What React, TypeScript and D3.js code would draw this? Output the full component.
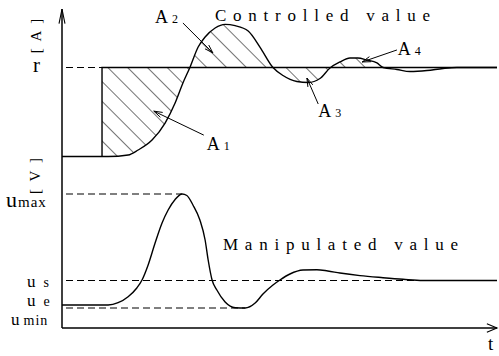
import React from "react";
import * as d3 from "d3";

// time axis (arbitrary units 0..100)
const TIME = [0, 9.2, 10.6, 15.2, 17.5, 20.7, 23.7, 26.0, 27.8, 29.4, 31.3, 32.9, 35.2, 37.5, 39.8, 42.8, 45.5, 48.5, 50.8, 54.0, 56.6, 59.3, 61.6, 63.9, 66.2, 68.0, 70.1, 72.4, 73.8, 77.0, 80.0, 83.9, 87.6, 90.8, 100];
const CONTROLLED = [0, 0, 0, 0.017, 0.073, 0.185, 0.376, 0.601, 0.826, 1.0, 1.23, 1.343, 1.444, 1.485, 1.47, 1.41, 1.23, 1.0, 0.91, 0.843, 0.831, 0.876, 0.994, 1.062, 1.107, 1.107, 1.084, 1.051, 1.0, 0.978, 0.955, 0.966, 0.989, 1.0, 1.0];

const TIME_M = [0, 7.6, 10.6, 12.9, 15.2, 17.2, 18.4, 19.8, 21.4, 23.0, 24.4, 26.0, 27.6, 28.7, 30.1, 31.7, 32.9, 33.6, 34.5, 35.6, 37.5, 39.8, 42.1, 44.4, 46.2, 48.5, 50.1, 52.4, 55.4, 58.6, 61.1, 63.9, 68.5, 73.8, 78.4, 83.0, 100];
const MANIPULATED = [2.3, 2.3, 2.3, 2.53, 3.13, 4.0, 4.8, 6.3, 8.5, 10.5, 11.8, 12.85, 13.4, 13.25, 12.3, 10.8, 8.8, 6.8, 4.8, 3.8, 2.6, 2.03, 2.0, 2.5, 3.4, 4.3, 4.8, 5.4, 5.8, 5.83, 5.7, 5.5, 5.24, 5.03, 4.87, 4.75, 4.75];

const SETPOINT = 1;
const STEP_T = 9.2;
const HATCH_END_T = 73.8;
const U_MAX = 13.4;
const U_S = 4.75;
const U_E = 2.3;
const U_MIN = 2.0;
const U_MAX_T = 27.6;
const U_MIN_T = 42.1;

// annotations: [label, sub, textT, textV, fromT, fromV, toT, toV]
const AREA_LABELS: [string, string, number, number, number, number, number, number][] = [
  ["A", "1", 33.3, 0.073, 32.6, 0.24, 21.1, 0.51],
  ["A", "2", 21.4, 1.5, 27.8, 1.5, 34.7, 1.163],
  ["A", "3", 58.9, 0.444, 58.9, 0.59, 56.3, 0.882],
  ["A", "4", 77.2, 1.14, 77.0, 1.197, 69.0, 1.062],
];

const FONT = "'Liberation Serif', 'Times New Roman', 'DejaVu Serif', serif";

function arrowHead(x1: number, y1: number, x2: number, y2: number, len: number, spread: number) {
  const a = Math.atan2(y2 - y1, x2 - x1);
  const p1 = [x2 - len * Math.cos(a - spread), y2 - len * Math.sin(a - spread)];
  const p2 = [x2 - len * Math.cos(a + spread), y2 - len * Math.sin(a + spread)];
  return `M${p1[0]},${p1[1]}L${x2},${y2}L${p2[0]},${p2[1]}`;
}

export default function App() {
  const W = 499, H = 356;
  const x = d3.scaleLinear().domain([0, 100]).range([62, 497]);
  const yC = d3.scaleLinear().domain([0, 1]).range([156.5, 67.5]);
  const yM = d3.scaleLinear().domain([0, 10]).range([328, 228]);

  const cData = TIME.map((t, i) => [t, CONTROLLED[i]] as [number, number]);
  const mData = TIME_M.map((t, i) => [t, MANIPULATED[i]] as [number, number]);

  const lineC = d3.line<[number, number]>().x(d => x(d[0])).y(d => yC(d[1])).curve(d3.curveMonotoneX);
  const lineM = d3.line<[number, number]>().x(d => x(d[0])).y(d => yM(d[1])).curve(d3.curveMonotoneX);
  const areaC = d3.area<[number, number]>().x(d => x(d[0])).y0(yC(SETPOINT)).y1(d => yC(d[1])).curve(d3.curveMonotoneX);

  const x0 = x(0), xEnd = x(100);
  const yAxisBottom = yM(0);
  const dash = "7,4";
  const tf = { fontFamily: FONT };

  return (
    <svg width={W} height={H} style={{ position: "absolute", left: 0, top: 0, background: "#fff" }}>
      <defs>
        <pattern id="hatch" patternUnits="userSpaceOnUse" width={14} height={14} patternTransform="rotate(-45)">
          <line x1={0} y1={0} x2={0} y2={14} stroke="#000" strokeWidth={1.1} />
        </pattern>
        <clipPath id="hclip">
          <rect x={x(STEP_T)} y={0} width={x(HATCH_END_T) - x(STEP_T)} height={170} />
        </clipPath>
      </defs>

      {/* hatched areas */}
      <g clipPath="url(#hclip)">
        <path d={areaC(cData) || ""} fill="url(#hatch)" stroke="none" />
      </g>

      {/* axes */}
      <g stroke="#000" strokeWidth={1.5} fill="none">
        <line x1={x0} y1={9} x2={x0} y2={yAxisBottom} />
        <line x1={x0} y1={yAxisBottom} x2={xEnd} y2={yAxisBottom} />
        <path d={arrowHead(x0, 40, x0, 9, 15, 0.2)} strokeWidth={1.1} />
        <path d={arrowHead(400, yAxisBottom, xEnd, yAxisBottom, 11, 0.4)} strokeWidth={1.1} />
      </g>

      {/* reference lines */}
      <g stroke="#000" strokeWidth={1.1} strokeDasharray={dash} fill="none">
        <line x1={x0 + 4} y1={yC(SETPOINT)} x2={x(STEP_T)} y2={yC(SETPOINT)} />
        <line x1={x0 + 4} y1={yM(U_MAX)} x2={x(U_MAX_T)} y2={yM(U_MAX)} />
        <line x1={x0 + 4} y1={yM(U_S)} x2={xEnd} y2={yM(U_S)} />
        <line x1={x0 + 4} y1={yM(U_MIN)} x2={x(U_MIN_T)} y2={yM(U_MIN)} />
      </g>

      {/* setpoint step */}
      <path
        d={`M${x(STEP_T)},${yC(0)}L${x(STEP_T)},${yC(SETPOINT)}L${xEnd},${yC(SETPOINT)}`}
        stroke="#000" strokeWidth={1.4} fill="none"
      />

      {/* curves */}
      <path d={lineC(cData) || ""} stroke="#000" strokeWidth={1.4} fill="none" />
      <path d={lineM(mData) || ""} stroke="#000" strokeWidth={1.4} fill="none" />

      {/* area annotations */}
      {AREA_LABELS.map(([lab, sub, tt, tv, ft, fv, at, av], i) => {
        const fx = x(ft), fy = yC(fv), ax = x(at), ay = yC(av);
        return (
          <g key={i}>
            <line x1={fx} y1={fy} x2={ax} y2={ay} stroke="#000" strokeWidth={1} />
            <path d={arrowHead(fx, fy, ax, ay, 9, 0.3)} stroke="#000" strokeWidth={1} fill="none" />
            <text x={x(tt)} y={yC(tv)} style={tf} fontSize={18} fill="#000">
              {lab}
              <tspan dx={4} fontSize={12}>{sub}</tspan>
            </text>
          </g>
        );
      })}

      {/* titles */}
      <text x={215} y={21} style={tf} fontSize={17} textLength={215} lengthAdjust="spacing" fill="#000">Controlled value</text>
      <text x={223} y={250} style={tf} fontSize={17} textLength={235} lengthAdjust="spacing" fill="#000">Manipulated value</text>

      {/* y labels */}
      <text x={33} y={72} style={tf} fontSize={21} fill="#000">r</text>
      <text transform="translate(41,35) rotate(-90)" textAnchor="middle" style={tf} fontSize={15} letterSpacing={2} fill="#000">[ A ]</text>
      <text transform="translate(40,175) rotate(-90)" textAnchor="middle" style={tf} fontSize={15} letterSpacing={2} fill="#000">[ V ]</text>

      <text x={6} y={207} style={tf} fontSize={22} fill="#000">u<tspan fontSize={15} dx={1} letterSpacing={1}>max</tspan></text>
      <text x={27} y={287} style={tf} fontSize={17} fill="#000">u<tspan fontSize={14} dx={8}>s</tspan></text>
      <text x={27} y={306} style={tf} fontSize={17} fill="#000">u<tspan fontSize={14} dx={8}>e</tspan></text>
      <text x={11} y={325} style={tf} fontSize={17} fill="#000">u<tspan fontSize={14} dx={4} letterSpacing={1}>min</tspan></text>

      <text x={488} y={350} style={tf} fontSize={19} fill="#000">t</text>
    </svg>
  );
}
